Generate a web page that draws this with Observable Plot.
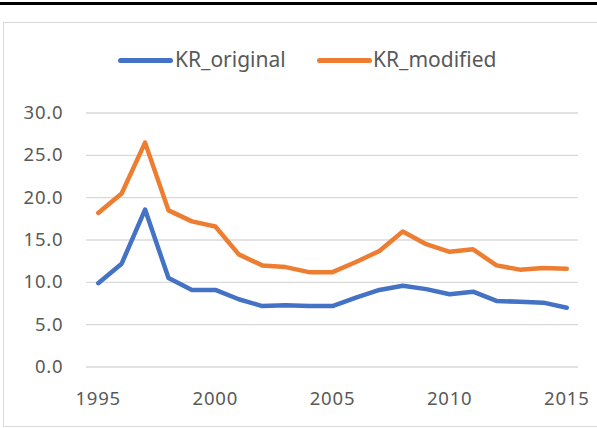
<!DOCTYPE html>
<html>
<head>
<meta charset="utf-8">
<script src="https://cdn.jsdelivr.net/npm/d3@7"></script>
<script src="https://cdn.jsdelivr.net/npm/@observablehq/plot@0.6"></script>
<style>
  html, body { margin: 0; padding: 0; background: #fff; }
  #wrap { position: relative; width: 597px; height: 428px; overflow: hidden; background: #fff; font-family: "Noto Sans", sans-serif; color: #595959; }
  .abs { position: absolute; }
  .sample { position: absolute; height: 5px; border-radius: 3px; }
  .ltext { position: absolute; font-size: 21px; line-height: 21px; white-space: nowrap; }
  #plot { position: absolute; left: 0; top: 0; }
</style>
</head>
<body>
<div id="wrap">
  <div class="abs" style="left:0;top:2px;width:597px;height:3px;background:#000"></div>
  <div class="abs" style="left:3px;top:22px;width:600px;height:403px;border:1px solid #D9D9D9"></div>
  <div id="plot"></div>
  <div id="legend"></div>
</div>
<script>
const years = [1995,1996,1997,1998,1999,2000,2001,2002,2003,2004,2005,2006,2007,2008,2009,2010,2011,2012,2013,2014,2015];
const krOriginal = [9.9,12.2,18.6,10.5,9.1,9.1,8.0,7.2,7.3,7.2,7.2,8.2,9.1,9.6,9.2,8.6,8.9,7.8,7.7,7.6,7.0];
const krModified = [18.2,20.5,26.5,18.5,17.2,16.6,13.3,12.0,11.8,11.2,11.2,12.4,13.7,16.0,14.5,13.6,13.9,12.0,11.5,11.7,11.6];
const seriesNames = ["KR_original", "KR_modified"];
const seriesColors = ["#4472C4", "#ED7D31"];
const xTicks = [1995, 2000, 2005, 2010, 2015];
const yTicks = [0, 5, 10, 15, 20, 25, 30];

const rows = [];
years.forEach((yr, i) => {
  rows.push({year: yr, value: krOriginal[i], series: seriesNames[0]});
  rows.push({year: yr, value: krModified[i], series: seriesNames[1]});
});

const chart = Plot.plot({
  width: 597,
  height: 428,
  marginLeft: 86,
  marginRight: 19,
  marginTop: 112.5,
  marginBottom: 61.5,
  style: { fontFamily: "'Noto Sans', sans-serif", fontSize: "18.5px", letterSpacing: "0.8px", color: "#595959", background: "transparent", overflow: "visible" },
  x: { domain: [1994.5, 2015.5], ticks: xTicks, tickSize: 0, tickPadding: 25, tickFormat: d => String(d), label: null },
  y: { domain: [0, 30], ticks: yTicks, tickSize: 0, tickPadding: 23, tickFormat: d => d.toFixed(1), label: null },
  color: { domain: seriesNames, range: seriesColors },
  marks: [
    Plot.ruleY(yTicks, { stroke: "#D9D9D9", strokeWidth: 1.3 }),
    Plot.line(rows, { x: "year", y: "value", z: "series", stroke: "series", strokeWidth: 4.5, strokeLinejoin: "round", strokeLinecap: "round" })
  ]
});
document.getElementById("plot").appendChild(chart);

const legend = document.getElementById("legend");
const legendPos = [{ lineLeft: 118, textLeft: 175 }, { lineLeft: 317, textLeft: 373 }];
seriesNames.forEach((name, i) => {
  const s = document.createElement("div");
  s.className = "sample";
  s.style.left = legendPos[i].lineLeft + "px";
  s.style.top = "58px";
  s.style.width = "55px";
  s.style.background = seriesColors[i];
  legend.appendChild(s);
  const t = document.createElement("div");
  t.className = "ltext";
  t.style.left = legendPos[i].textLeft + "px";
  t.style.top = "49px";
  t.textContent = name;
  legend.appendChild(t);
});
</script>
</body>
</html>
